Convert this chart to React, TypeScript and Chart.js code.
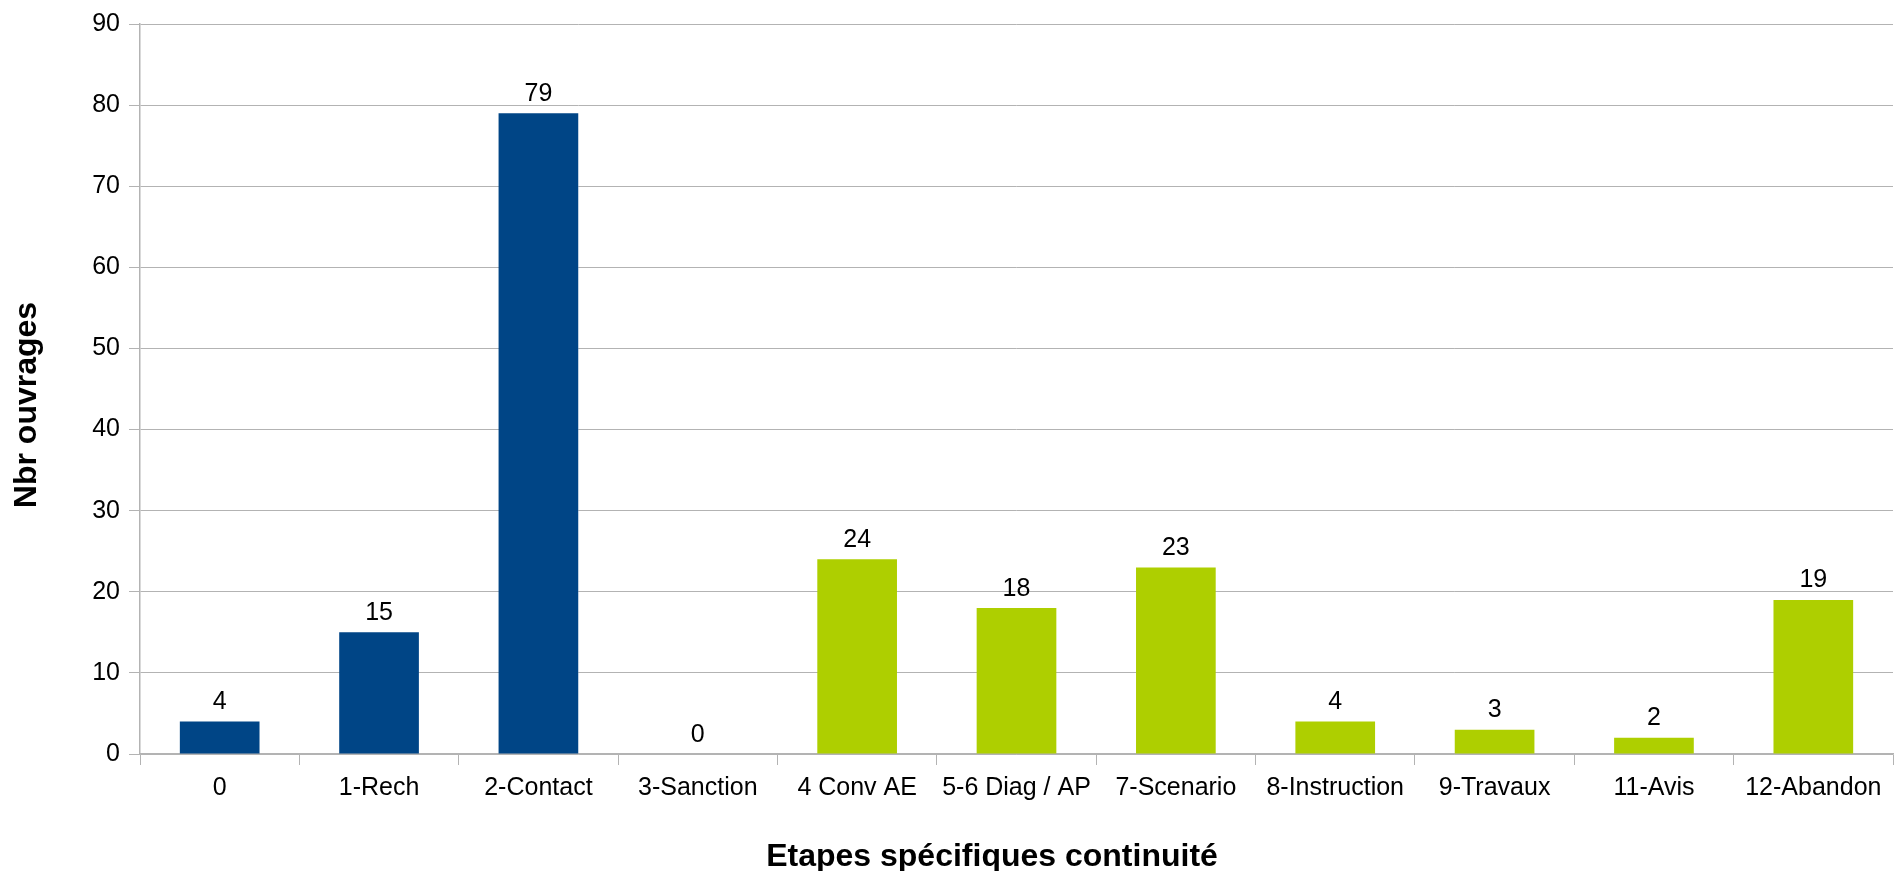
import React, { useEffect, useRef } from "react";
import { Chart, registerables } from "chart.js";

Chart.register(...registerables);

const categories = ["0", "1-Rech", "2-Contact", "3-Sanction", "4 Conv AE", "5-6 Diag / AP", "7-Scenario", "8-Instruction", "9-Travaux", "11-Avis", "12-Abandon"];
const values = [4, 15, 79, 0, 24, 18, 23, 4, 3, 2, 19];
const barColors = ["#004586", "#004586", "#004586", "#004586", "#aecf00", "#aecf00", "#aecf00", "#aecf00", "#aecf00", "#aecf00", "#aecf00"];
const yTitle = "Nbr ouvrages";
const xTitle = "Etapes spécifiques continuité";
const yMin = 0;
const yMax = 90;
const yStep = 10;

const FONT = "'Liberation Sans', Arial, sans-serif";
const GRID = "#b3b3b3";

const overlayPlugin = {
  id: "overlay",
  afterDatasetsDraw(chart: any) {
    const ctx = chart.ctx;
    const meta = chart.getDatasetMeta(0);
    ctx.save();
    ctx.fillStyle = "#000";
    ctx.font = `25px ${FONT}`;
    ctx.textAlign = "center";
    ctx.textBaseline = "alphabetic";
    meta.data.forEach((bar: any, i: number) => {
      ctx.fillText(String(values[i]), bar.x, bar.y - 12.5);
    });
    ctx.restore();
  },
  afterDraw(chart: any) {
    const ctx = chart.ctx;
    ctx.save();
    ctx.fillStyle = "#000";
    ctx.font = `bold 32px ${FONT}`;
    ctx.textAlign = "center";
    ctx.textBaseline = "alphabetic";
    ctx.fillText(xTitle, 992, 866);
    ctx.translate(36, 405);
    ctx.rotate(-Math.PI / 2);
    ctx.fillText(yTitle, 0, 0);
    ctx.restore();
  },
};

export default function App() {
  const ref = useRef<HTMLCanvasElement | null>(null);
  useEffect(() => {
    if (!ref.current) return;
    const chart = new Chart(ref.current, {
      type: "bar",
      data: {
        labels: categories,
        datasets: [
          {
            data: values,
            backgroundColor: barColors,
            borderWidth: 0,
            barPercentage: 0.5,
            categoryPercentage: 1,
          },
        ],
      },
      options: {
        animation: false,
        responsive: true,
        maintainAspectRatio: false,
        layout: { padding: { left: 0, top: 22, right: 10, bottom: 0 } },
        plugins: { legend: { display: false }, tooltip: { enabled: false } },
        scales: {
          x: {
            offset: true,
            grid: {
              offset: true,
              drawOnChartArea: true,
              color: (c: any) => (c.index === categories.length ? GRID : "rgba(0,0,0,0)"),
              tickColor: GRID,
              tickLength: 11,
              lineWidth: 1,
            },
            border: { display: true, color: GRID, width: 1.5 },
            ticks: {
              color: "#000",
              font: { family: FONT, size: 25 },
              padding: 8,
              maxRotation: 0,
              autoSkip: false,
            },
            afterFit: (scale: any) => {
              scale.height = 117;
            },
          },
          y: {
            min: yMin,
            max: yMax,
            grid: { color: GRID, tickColor: GRID, tickLength: 11, lineWidth: 1 },
            border: { display: true, color: GRID, width: 1.5 },
            ticks: {
              stepSize: yStep,
              color: "#000",
              font: { family: FONT, size: 25 },
              padding: 9,
            },
            afterFit: (scale: any) => {
              scale.width = 140;
            },
          },
        },
      },
      plugins: [overlayPlugin],
    });
    return () => chart.destroy();
  }, []);
  return (
    <div style={{ position: "absolute", left: 0, top: 0, width: 1903, height: 871, background: "#fff" }}>
      <canvas ref={ref} />
    </div>
  );
}
